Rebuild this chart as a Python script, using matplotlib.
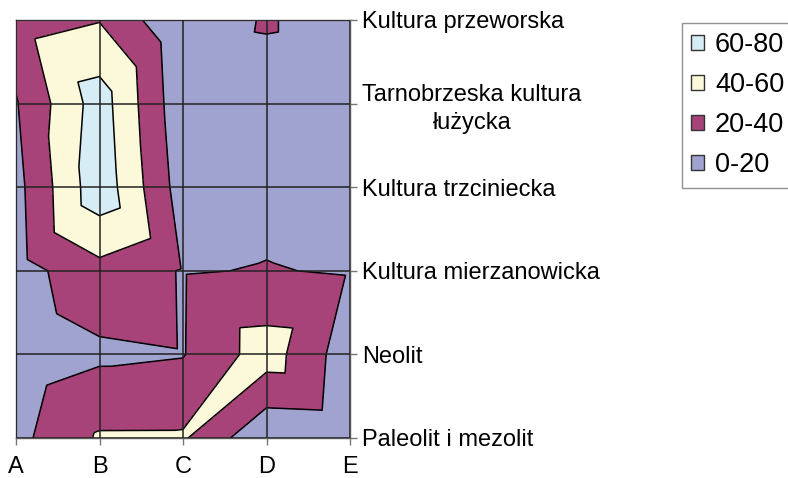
import numpy as np
import matplotlib.pyplot as plt
import matplotlib.tri as mtri
from matplotlib.patches import Patch

plt.rcParams['font.family'] = ['Liberation Sans', 'DejaVu Sans']

columns = ['A', 'B', 'C', 'D', 'E']
periods = ['Paleolit i mezolit', 'Neolit', 'Kultura mierzanowicka',
           'Kultura trzciniecka', 'Tarnobrzeska kultura\nłużycka',
           'Kultura przeworska']

# values, one list per period (bottom to top), columns A..E
paleolit = [14.3, 42.3, 42.4, 3, 5]
neolit = [7, 16.3, 19, 50, 8]
mierzanowicka = [11.6, 33.7, 18.7, 21, 18.3]
trzciniecka = [13.6, 73.6, 10, 13.3, 10]
tarnobrzeska = [18.5, 70, 5.2, 7.7, 5]
przeworska = [31.3, 39.1, 2, 22.5, 5]

levels = [0, 20, 40, 60, 80]
level_labels = ['0-20', '20-40', '40-60', '60-80']
colors = ['#a0a2cf', '#a8437a', '#fbf9d9', '#d6edf5']

Z = np.array([paleolit, neolit, mierzanowicka, trzciniecka, tarnobrzeska, przeworska])
nrow, ncol = Z.shape
X, Y = np.meshgrid(np.arange(ncol), np.arange(nrow))
x = X.ravel().astype(float)
y = Y.ravel().astype(float)
z = Z.ravel()

# split every cell into two triangles along the diagonal through its highest corner
tris = []
for j in range(nrow - 1):
    for i in range(ncol - 1):
        bl = j * ncol + i
        br = bl + 1
        tl = bl + ncol
        tr = tl + 1
        k = int(np.argmax(z[[bl, br, tr, tl]]))
        if k in (0, 2):
            tris += [[bl, br, tr], [bl, tr, tl]]
        else:
            tris += [[bl, br, tl], [br, tr, tl]]
tri = mtri.Triangulation(x, y, tris)

fig = plt.figure(figsize=(7.88, 4.78), dpi=100)
ax = fig.add_axes([16 / 788, 40 / 478, 334 / 788, 418 / 478])

ax.tricontourf(tri, z, levels=levels, colors=colors)
ax.tricontour(tri, z, levels=levels[1:-1], colors='black', linewidths=1.1)

ax.set_xlim(0, ncol - 1)
ax.set_ylim(0, nrow - 1)
ax.set_xticks(range(ncol))
ax.set_xticklabels(columns)
ax.set_yticks(range(nrow))
ax.set_yticklabels(periods)
ax.yaxis.tick_right()
ax.tick_params(axis='both', direction='out', length=5, width=1, color='#777777',
               labelsize=17, pad=4)
ax.tick_params(axis='x', pad=8)
for lab in ax.get_yticklabels():
    lab.set_multialignment('center')
    lab.set_linespacing(1.35)

ax.grid(True, color='#222222', lw=1.1)
ax.set_axisbelow(False)
for sp in ax.spines.values():
    sp.set_color('#555555')
    sp.set_linewidth(1)

handles = [Patch(facecolor=colors[k], edgecolor='#333333', label=level_labels[k])
           for k in range(3, -1, -1)]
fig.legend(handles=handles, loc='upper left', bbox_to_anchor=(682 / 788, 1 - 23 / 478),
           fontsize=19.5, frameon=True, fancybox=False, edgecolor='#777777',
           handlelength=0.48, handleheight=0.48, handletextpad=0.4,
           labelspacing=0.52, borderpad=0.34, borderaxespad=0)

fig.savefig('out.png', dpi=100)
